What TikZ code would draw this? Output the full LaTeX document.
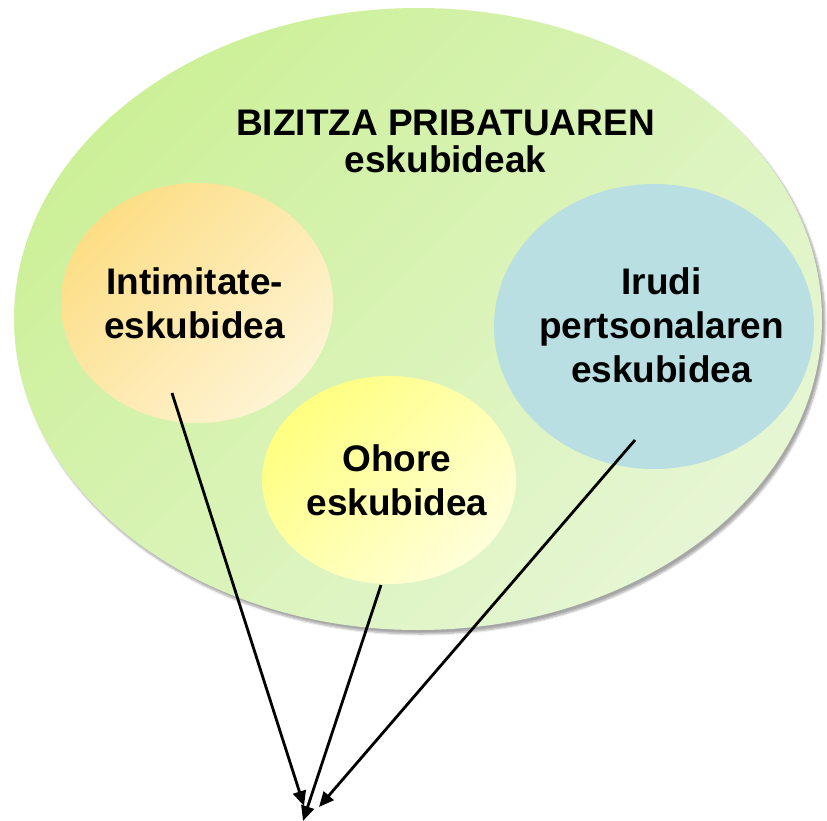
\documentclass[tikz,border=0pt]{standalone}
\usepackage{fontspec}
\setmainfont{Liberation Sans}
\usetikzlibrary{shapes.geometric,arrows.meta,shadows.blur}
\definecolor{bigA}{RGB}{204,240,152}
\definecolor{bigB}{RGB}{230,246,212}
\definecolor{orA}{RGB}{253,222,134}
\definecolor{orB}{RGB}{254,244,212}
\definecolor{yeA}{RGB}{255,255,128}
\definecolor{yeB}{RGB}{255,255,218}
\definecolor{blueC}{RGB}{185,223,227}
\tikzset{
  blob/.style={ellipse, inner sep=0pt, draw=none},
  lbl/.style={font=\bfseries\fontsize{37}{44}\selectfont, align=center, inner sep=0pt},
  ttl/.style={font=\bfseries\fontsize{37}{37}\selectfont, align=center, inner sep=0pt},
  conn/.style={line width=2.8pt, -{Triangle[length=15pt,width=13pt]}}
}
\begin{document}
\begin{tikzpicture}[x=1pt,y=-1pt]
\useasboundingbox (0,0) rectangle (827,821);
\node[blob, minimum width=808pt, minimum height=622pt, shading=axis, top color=bigA, bottom color=bigB, shading angle=45,
  blur shadow={shadow xshift=3pt, shadow yshift=-4pt, shadow opacity=35, shadow blur steps=6}] (E) at (418,319) {};
\node[blob, minimum width=272pt, minimum height=240pt, shading=axis, top color=orA, bottom color=orB, shading angle=45] (A) at (197,303) {};
\node[blob, minimum width=254pt, minimum height=208pt, shading=axis, top color=yeA, bottom color=yeB, shading angle=45] (B) at (389,480) {};
\node[blob, minimum width=320pt, minimum height=285pt, fill=blueC] (C) at (654,326.5) {};
\node[ttl] (T) at (445.5,141) {BIZITZA PRIBATUAREN\\eskubideak};
\node[lbl] (tA) at (194.5,303) {Intimitate-\\eskubidea};
\node[lbl] (tB) at (397,480) {Ohore\\eskubidea};
\node[lbl] (tC) at (661.5,325) {Irudi\\pertsonalaren\\eskubidea};
\coordinate (a1) at (172,393);
\coordinate (a2) at (381,585);
\coordinate (a3) at (635,440);
\coordinate (t1) at (304,806);
\coordinate (t2) at (303,821);
\coordinate (t3) at (319,807);
\draw[conn] (a1) -- (t1);
\draw[conn] (a2) -- (t2);
\draw[conn] (a3) -- (t3);
\end{tikzpicture}
\end{document}
